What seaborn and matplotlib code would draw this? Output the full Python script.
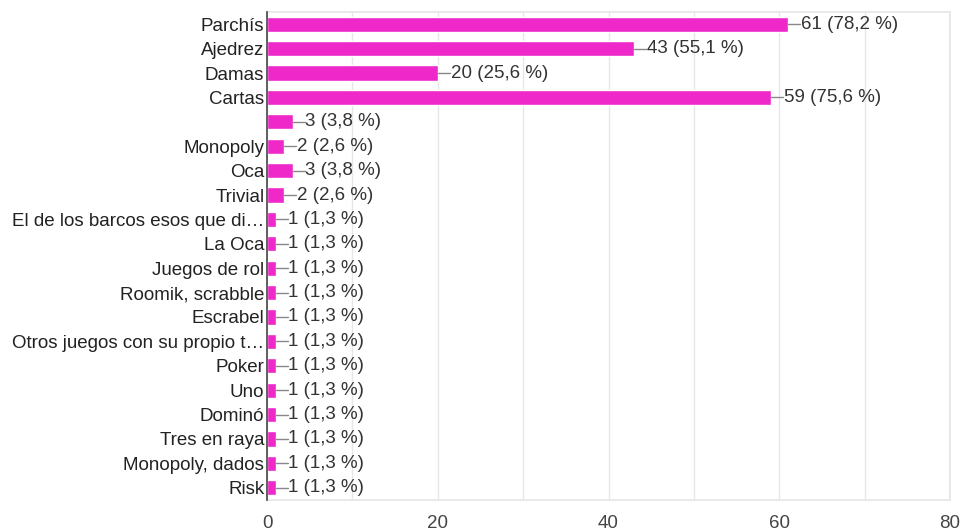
import pandas as pd
import seaborn as sns
import matplotlib.pyplot as plt

juegos = ['Parchís', 'Ajedrez', 'Damas', 'Cartas', '', 'Monopoly', 'Oca', 'Trivial',
          'El de los barcos esos que di…', 'La Oca', 'Juegos de rol', 'Roomik, scrabble',
          'Escrabel', 'Otros juegos con su propio t…', 'Poker', 'Uno', 'Dominó',
          'Tres en raya', 'Monopoly, dados', 'Risk']
respuestas = [61, 43, 20, 59, 3, 2, 3, 2, 1, 1, 1, 1, 1, 1, 1, 1, 1, 1, 1, 1]
total = 78
x_ticks = [0, 20, 40, 60, 80]

df = pd.DataFrame({'juego': juegos, 'n': respuestas})

sns.set_theme(style="white")
plt.rcParams['font.family'] = ['Liberation Sans', 'DejaVu Sans']

fig = plt.figure(figsize=(9.63, 5.32), dpi=100)
ax = fig.add_axes([0.2773, 0.0602, 0.7092, 0.9172])

sns.barplot(data=df, x='n', y='juego', orient='h', color='#ee28c9',
            saturation=1, width=0.62, ax=ax)

for i, v in enumerate(respuestas):
    ax.plot([v, v + 1.4], [i, i], color='#888888', lw=1, zorder=3)
    pct = f"{v / total * 100:.1f}".replace('.', ',')
    ax.text(v + 1.5, i, f"{v} ({pct} %)", va='center', ha='left',
            fontsize=13.5, color='#333333')

ax.set_xlim(0, 80)
ax.set_ylim(len(juegos) - 0.5, -0.5)
ax.set_xticks(x_ticks)
ax.set_xticks(range(0, 81, 10), minor=True)
ax.grid(axis='x', which='both', color='#e6e6e6', lw=1)
ax.set_axisbelow(True)
ax.set_xlabel('')
ax.set_ylabel('')
ax.tick_params(axis='x', which='both', length=0, pad=11, labelsize=13.5, labelcolor='#444444')
ax.tick_params(axis='y', length=0, pad=2, labelsize=13.5, labelcolor='#222222')

for side in ['top', 'right', 'bottom']:
    ax.spines[side].set_color('#e6e6e6')
ax.spines['left'].set_color('#444444')
ax.spines['left'].set_linewidth(1.2)
ax.spines['left'].set_zorder(4)

fig.savefig('out.png', dpi=100)
